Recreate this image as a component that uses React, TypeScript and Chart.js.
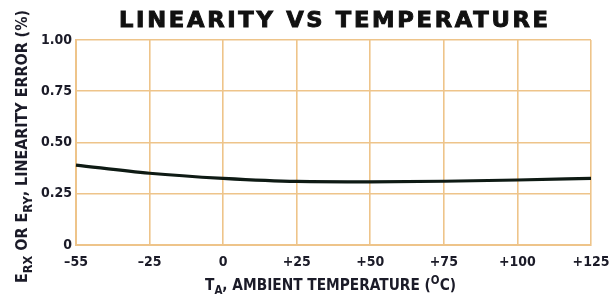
import { useEffect, useRef } from "react";
import { Chart, registerables } from "chart.js";

Chart.register(...registerables);

// ---- data ----
const temperatureLabels = ["–55", "–25", "0", "+25", "+50", "+75", "+100", "+125"];
const linearityError = [0.39, 0.35, 0.325, 0.31, 0.308, 0.311, 0.317, 0.325];
const yMin = 0;
const yMax = 1;
const yStep = 0.25;

const chartTitle = "LINEARITY VS TEMPERATURE";
const yTitleSegments = [
  { text: "E", sub: false },
  { text: "RX", sub: true },
  { text: " OR E", sub: false },
  { text: "RY", sub: true },
  { text: ", LINEARITY ERROR (%)", sub: false },
];
const xTitleSegments = [
  { text: "T", kind: "n" },
  { text: "A", kind: "sub" },
  { text: ", AMBIENT TEMPERATURE (", kind: "n" },
  { text: "O", kind: "sup" },
  { text: "C)", kind: "n" },
];

const W = 614;
const H = 295;
const COND = "'DejaVu Sans Condensed', 'Liberation Sans Narrow', 'Arial Narrow', sans-serif";
const GRID = "#eec48a";
const TEXT = "#1b1b28";

const textPlugin = {
  id: "customText",
  beforeDraw(chart: any) {
    const ctx = chart.ctx;
    ctx.save();
    ctx.fillStyle = "#ffffff";
    ctx.fillRect(0, 0, chart.width, chart.height);
    ctx.restore();
  },
  afterDraw(chart: any) {
    const ctx: CanvasRenderingContext2D = chart.ctx;
    const area = chart.chartArea;
    // Title
    ctx.save();
    ctx.fillStyle = "#111111";
    ctx.strokeStyle = "#111111";
    ctx.lineWidth = 0.9;
    ctx.font = "bold 21px 'DejaVu Sans', sans-serif";
    ctx.textBaseline = "alphabetic";
    ctx.textAlign = "left";
    (ctx as any).letterSpacing = "2.5px";
    const natural = ctx.measureText(chartTitle).width - 2.5;
    const targetW = 429;
    const cx = (area.left + area.right) / 2;
    ctx.translate(cx - targetW / 2, 27);
    ctx.scale(targetW / natural, 1);
    ctx.fillText(chartTitle, 0, 0);
    ctx.strokeText(chartTitle, 0, 0);
    ctx.restore();

    // Y axis title (rotated)
    ctx.save();
    ctx.fillStyle = TEXT;
    const yMain = "bold 15px " + COND;
    const ySub = "bold 12px " + COND;
    let wy = 0;
    for (const s of yTitleSegments) {
      ctx.font = s.sub ? ySub : yMain;
      wy += ctx.measureText(s.text).width;
    }
    const yLen = 273;
    const sy = yLen / wy;
    ctx.translate(27, 283);
    ctx.rotate(-Math.PI / 2);
    ctx.scale(sy, 1);
    ctx.textBaseline = "alphabetic";
    let px = 0;
    for (const s of yTitleSegments) {
      ctx.font = s.sub ? ySub : yMain;
      ctx.fillText(s.text, px, s.sub ? 5 : 0);
      px += ctx.measureText(s.text).width;
    }
    ctx.restore();

    // X axis title
    ctx.save();
    ctx.fillStyle = TEXT;
    const xMain = "bold 16px " + COND;
    const xSmall = "bold 12px " + COND;
    let wx = 0;
    for (const s of xTitleSegments) {
      ctx.font = s.kind === "n" ? xMain : xSmall;
      wx += ctx.measureText(s.text).width;
    }
    const xLen = 251;
    const sx = xLen / wx;
    ctx.translate(205, 290);
    ctx.scale(sx, 1);
    ctx.textBaseline = "alphabetic";
    let qx = 0;
    for (const s of xTitleSegments) {
      ctx.font = s.kind === "n" ? xMain : xSmall;
      const dy = s.kind === "sub" ? 4 : s.kind === "sup" ? -6 : 0;
      ctx.fillText(s.text, qx, dy);
      qx += ctx.measureText(s.text).width;
    }
    ctx.restore();
  },
};

export default function App() {
  const ref = useRef<HTMLCanvasElement | null>(null);
  useEffect(() => {
    if (!ref.current) return;
    const chart = new Chart(ref.current, {
      type: "line",
      data: {
        labels: temperatureLabels,
        datasets: [
          {
            data: linearityError,
            borderColor: "#0e1a14",
            borderWidth: 3.2,
            pointRadius: 0,
            cubicInterpolationMode: "monotone",
            fill: false,
          },
        ],
      },
      options: {
        responsive: false,
        animation: false,
        devicePixelRatio: 1,
        layout: { padding: { top: 40, right: 23, left: 0, bottom: 0 } },
        plugins: {
          legend: { display: false },
          title: { display: false },
          tooltip: { enabled: false },
        },
        scales: {
          x: {
            type: "category",
            offset: false,
            grid: { color: GRID, lineWidth: 1.6, drawTicks: false },
            border: { color: GRID, width: 2 },
            ticks: {
              color: TEXT,
              font: { family: COND, size: 14, weight: "bold" },
              padding: 9,
              maxRotation: 0,
              autoSkip: false,
            },
            afterFit(scale: any) {
              scale.height = 50;
              scale.paddingLeft = 0;
              scale.paddingRight = 0;
            },
          },
          y: {
            min: yMin,
            max: yMax,
            grid: { color: GRID, lineWidth: 1.6, drawTicks: false },
            border: { color: GRID, width: 2 },
            ticks: {
              stepSize: yStep,
              color: TEXT,
              font: { family: COND, size: 14, weight: "bold" },
              padding: 4,
              callback: (v: any) => (Number(v) === 0 ? "0" : Number(v).toFixed(2)),
            },
            afterFit(scale: any) {
              scale.width = 76;
              scale.paddingTop = 0;
              scale.paddingBottom = 0;
            },
          },
        },
      },
      plugins: [textPlugin],
    } as any);
    return () => chart.destroy();
  }, []);
  return (
    <div style={{ position: "fixed", left: 0, top: 0, width: W, height: H, background: "#fff" }}>
      <canvas ref={ref} width={W} height={H} style={{ width: W, height: H, display: "block" }} />
    </div>
  );
}
